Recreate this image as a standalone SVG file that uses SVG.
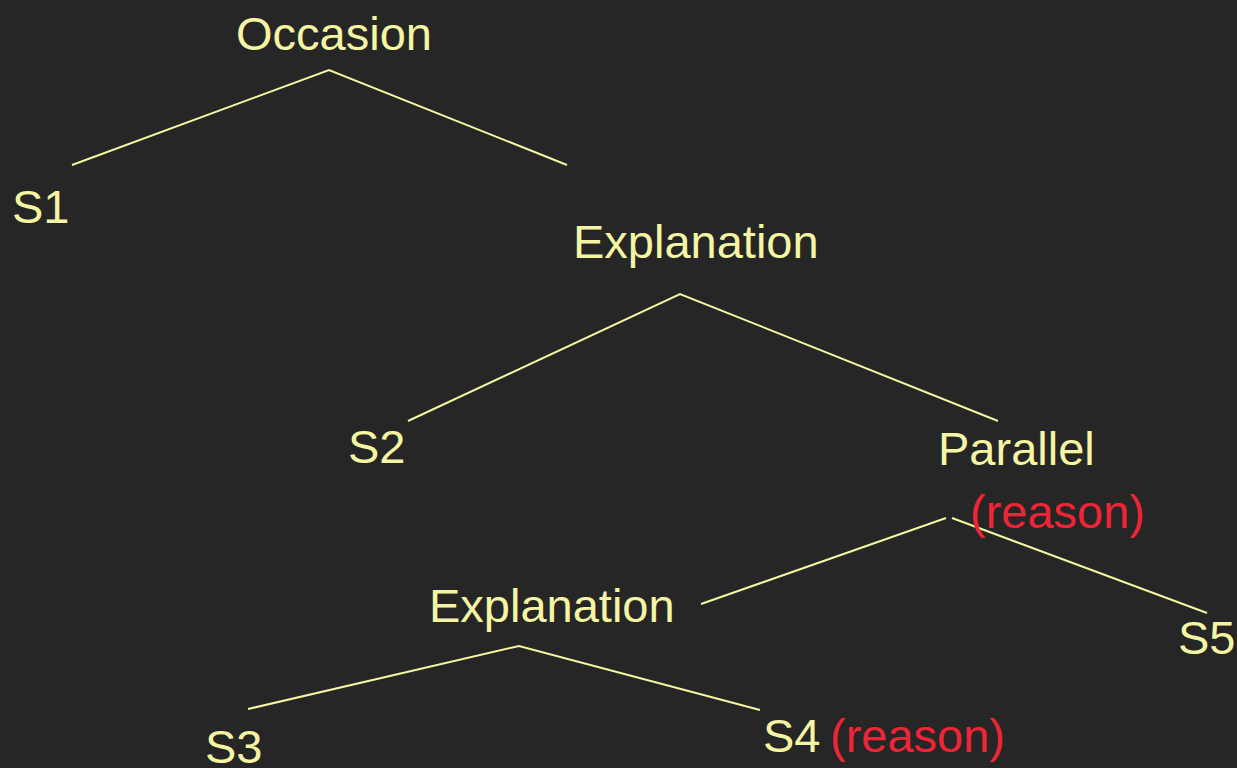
<svg xmlns="http://www.w3.org/2000/svg" width="1237" height="768" viewBox="0 0 1237 768">
<style>
.t{font-family:"Liberation Sans",Arial,sans-serif;font-size:47px;fill:#f5f5a3}
.r{font-family:"Liberation Sans",Arial,sans-serif;font-size:47px;fill:#ee2537}
.c{stroke:#f5f5a3;stroke-width:2;fill:none}
</style>
<rect width="1237" height="768" fill="#262626"/>
<g id="connectors">
<polyline class="c" points="72,165 329,70 567,165"/>
<polyline class="c" points="408,421 680,294 998,421"/>
<line class="c" x1="701" y1="604" x2="946" y2="518"/>
<line class="c" x1="952" y1="518" x2="1207" y2="613"/>
<polyline class="c" points="248,709 519,646 760,710"/>
</g>
<g id="occasion"><text class="t" x="236" y="50">Occasion</text></g>
<g id="s1"><text class="t" x="12" y="223">S1</text></g>
<g id="explanation1"><text class="t" x="573" y="258">Explanation</text></g>
<g id="s2"><text class="t" x="348" y="463">S2</text></g>
<g id="parallel"><text class="t" x="938" y="465">Parallel</text><text class="r" x="970" y="528">(reason)</text></g>
<g id="explanation2"><text class="t" x="429" y="622">Explanation</text></g>
<g id="s5"><text class="t" x="1178" y="654">S5</text></g>
<g id="s3"><text class="t" x="205" y="763">S3</text></g>
<g id="s4"><text class="t" x="763" y="752">S4</text><text class="r" x="830" y="752">(reason)</text></g>
</svg>
